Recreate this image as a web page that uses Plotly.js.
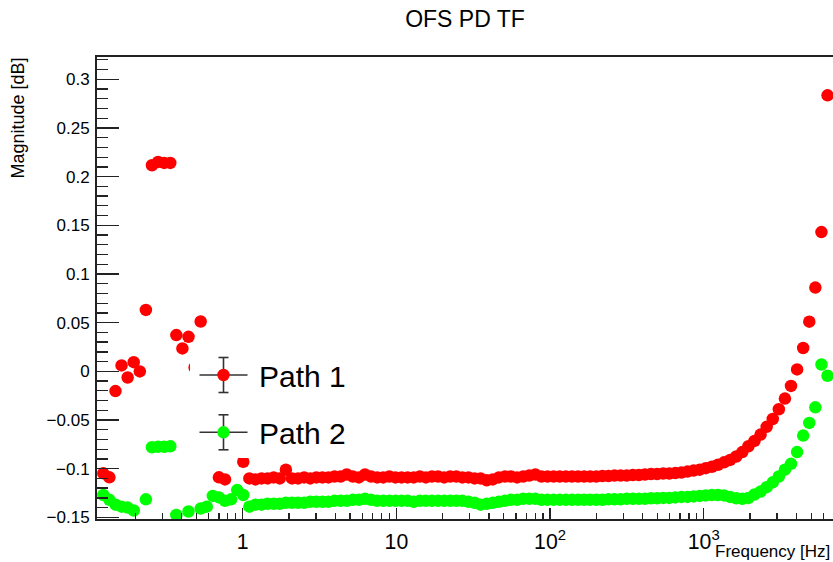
<!DOCTYPE html>
<html>
<head>
<meta charset="utf-8">
<script src="https://cdn.plot.ly/plotly-3.0.1.min.js"></script>
<style>
  html, body { margin: 0; padding: 0; background: #ffffff; }
  #chart { width: 833px; height: 562px; }
</style>
</head>
<body>
<div id="chart"></div>
<script>
// Swept-sine frequency points [Hz]
const freqHz = [
  0.1239, 0.1357, 0.1487, 0.1628, 0.1784, 0.1954, 0.2141, 0.2345, 0.2569, 0.2814,
  0.3083, 0.3378, 0.3700, 0.4053, 0.4440, 0.4864, 0.5329, 0.5838, 0.6394, 0.7005,
  0.7674, 0.8406, 0.9210, 1.0088, 1.1052, 1.2106, 1.3262, 1.4527, 1.5915, 1.7436,
  1.9099, 2.0924, 2.2923, 2.5106, 2.7506, 3.0130, 3.3008, 3.6160, 3.9610, 4.3390,
  4.7534, 5.2075, 5.7040, 6.2495, 6.8450, 7.4989, 8.2150, 9.0000, 9.858, 10.80,
  11.83, 12.96, 14.20, 15.55, 17.04, 18.66, 20.45, 22.40, 24.54, 26.88,
  29.44, 32.26, 35.33, 38.71, 42.41, 46.45, 50.89, 55.75, 61.07, 66.90,
  73.28, 80.28, 87.95, 96.34, 105.5, 115.6, 126.6, 138.7, 152.0, 166.5,
  182.4, 199.8, 218.9, 239.8, 262.7, 287.7, 315.2, 345.3, 378.3, 414.4,
  453.9, 497.3, 544.7, 596.8, 653.7, 716.1, 784.5, 859.4, 941.4, 1031,
  1130, 1238, 1356, 1485, 1627, 1782, 1953, 2139, 2343, 2567,
  2812, 3080, 3374, 3697, 4050, 4436, 4860, 5324, 5832, 6389
];

// Magnitude of path 1 [dB]
const path1Mag = [
  -0.1048, -0.1089, -0.0203, 0.0061, -0.0063, 0.0094, -0.0001, 0.0631, 0.2117, 0.2151,
  0.2141, 0.2141, 0.0372, 0.0235, 0.0354, 0.0040, 0.0512, -0.030, -0.055, -0.1089,
  -0.1110, -0.065, -0.045, -0.0929, -0.110, -0.111, -0.110, -0.110, -0.109, -0.110,
  -0.101, -0.110, -0.110, -0.109, -0.110, -0.109, -0.109, -0.109, -0.108, -0.108,
  -0.106, -0.108, -0.109, -0.106, -0.108, -0.109, -0.109, -0.108, -0.109, -0.109,
  -0.109, -0.109, -0.108, -0.109, -0.108, -0.108, -0.109, -0.108, -0.108, -0.109,
  -0.109, -0.110, -0.110, -0.112, -0.111, -0.109, -0.108, -0.108, -0.109, -0.108,
  -0.107, -0.106, -0.108, -0.108, -0.108, -0.108, -0.108, -0.108, -0.108, -0.108,
  -0.108, -0.108, -0.1075, -0.1075, -0.107, -0.107, -0.107, -0.1065, -0.1065, -0.106,
  -0.1055, -0.1055, -0.105, -0.105, -0.1045, -0.104, -0.103, -0.102, -0.101, -0.0995,
  -0.098, -0.096, -0.0935, -0.091, -0.0875, -0.083, -0.077, -0.0715, -0.065, -0.057,
  -0.049, -0.039, -0.028, -0.015, 0.002, 0.024, 0.051, 0.086, 0.143, 0.2835
];

// Magnitude of path 2 [dB]
const path2Mag = [
  -0.127, -0.132, -0.137, -0.139, -0.140, -0.143, -0.160, -0.1315, -0.078, -0.0775,
  -0.0775, -0.077, -0.1476, -0.160, -0.144, -0.160, -0.141, -0.139, -0.128, -0.1295,
  -0.133, -0.1315, -0.122, -0.127, -0.139, -0.137, -0.137, -0.136, -0.136, -0.136,
  -0.135, -0.135, -0.135, -0.135, -0.134, -0.134, -0.134, -0.134, -0.133, -0.133,
  -0.133, -0.132, -0.132, -0.131, -0.132, -0.133, -0.133, -0.133, -0.133, -0.133,
  -0.133, -0.134, -0.133, -0.133, -0.133, -0.133, -0.133, -0.133, -0.133, -0.133,
  -0.134, -0.135, -0.137, -0.136, -0.135, -0.134, -0.133, -0.132, -0.132, -0.131,
  -0.131, -0.131, -0.132, -0.132, -0.132, -0.132, -0.132, -0.132, -0.132, -0.132,
  -0.132, -0.132, -0.132, -0.1315, -0.1315, -0.1315, -0.131, -0.131, -0.131, -0.131,
  -0.1305, -0.1305, -0.130, -0.130, -0.1295, -0.129, -0.129, -0.1285, -0.128, -0.1275,
  -0.127, -0.127, -0.1275, -0.129, -0.1305, -0.131, -0.130, -0.1265, -0.1235, -0.119,
  -0.114, -0.108, -0.101, -0.095, -0.083, -0.066, -0.053, -0.037, 0.007, -0.0045
];

const seriesNames = ['Path 1', 'Path 2'];
const chartTitle = 'OFS PD TF';
const xTitle = 'Frequency [Hz]';
const yTitle = 'Magnitude [dB]';

// ---- styling ----
const FONT = 'Liberation Sans, Arial, Helvetica, sans-serif';
const COLORS = ['#ff0000', '#00ff00'];
const AXIS = '#222222';
const W = 833, H = 562;
const M = { l: 97, r: 0, t: 57, b: 43 };
const PW = W - M.l - M.r, PH = H - M.t - M.b;
// pixel -> paper coordinate helpers (used for legend / title placement)
const px = x => (x - M.l) / PW;
const py = y => (H - M.b - y) / PH;

const traces = [path1Mag, path2Mag].map((ys, i) => ({
  type: 'scatter',
  mode: 'markers',
  name: seriesNames[i],
  x: freqHz,
  y: ys,
  marker: { color: COLORS[i], size: 12.5, line: { width: 0 } },
  cliponaxis: true,
  hoverinfo: 'x+y+name'
}));

// Hand-built legend box: white panel, marker with cross-shaped error bars, label
const shapes = [];
const annotations = [];
shapes.push({
  type: 'rect', xref: 'paper', yref: 'paper', layer: 'above',
  x0: px(190), x1: px(362), y0: py(458), y1: py(347),
  fillcolor: '#ffffff', line: { width: 0 }
});
const rowY = [375, 432.3];
const symX = 223.5, halfLine = 24, halfBar = 17.5, cap = 5, r = 6.2;
seriesNames.forEach((name, i) => {
  const cy = rowY[i];
  const ln = { color: '#333333', width: 1.6 };
  const seg = (x0, y0, x1, y1) => shapes.push({
    type: 'line', xref: 'paper', yref: 'paper', layer: 'above',
    x0: px(x0), y0: py(y0), x1: px(x1), y1: py(y1), line: ln
  });
  seg(symX - halfLine, cy, symX + halfLine, cy);
  seg(symX, cy - halfBar, symX, cy + halfBar);
  seg(symX - cap, cy - halfBar, symX + cap, cy - halfBar);
  seg(symX - cap, cy + halfBar, symX + cap, cy + halfBar);
  shapes.push({
    type: 'circle', xref: 'paper', yref: 'paper', layer: 'above',
    x0: px(symX - r), x1: px(symX + r), y0: py(cy + r), y1: py(cy - r),
    fillcolor: COLORS[i], line: { width: 0 }
  });
  annotations.push({
    xref: 'paper', yref: 'paper', x: px(257), y: py(cy + 1.5),
    xanchor: 'left', yanchor: 'middle', showarrow: false,
    text: name, font: { family: FONT, size: 30, color: '#000000' }
  });
});

// Axis titles placed ROOT-style (right/top aligned)
annotations.push({
  xref: 'paper', yref: 'paper', x: px(832), y: py(551),
  xanchor: 'right', yanchor: 'middle', showarrow: false,
  text: xTitle, font: { family: FONT, size: 17, color: '#000000' }
});
annotations.push({
  xref: 'paper', yref: 'paper', x: px(18), y: py(56),
  xanchor: 'center', yanchor: 'top', showarrow: false, textangle: -90,
  text: yTitle, font: { family: FONT, size: 18, color: '#000000' }
});

const layout = {
  width: W, height: H,
  margin: M,
  paper_bgcolor: '#ffffff',
  plot_bgcolor: '#ffffff',
  showlegend: false,
  font: { family: FONT, size: 17, color: '#000000' },
  title: {
    text: chartTitle,
    font: { family: FONT, size: 23, color: '#000000' },
    xref: 'paper', x: 0.5, xanchor: 'center',
    yref: 'container', y: 1 - 19 / H, yanchor: 'middle'
  },
  xaxis: {
    type: 'log',
    range: [-0.948, 3.841],
    dtick: 1,
    exponentformat: 'power',
    showgrid: false, zeroline: false,
    showline: true, linecolor: AXIS, linewidth: 2, mirror: true,
    ticks: 'inside', ticklen: 11, tickwidth: 1.3, tickcolor: AXIS,
    ticklabelstandoff: 3,
    tickfont: { family: FONT, size: 17, color: '#000000' },
    minor: { ticks: 'inside', ticklen: 6, tickwidth: 1.3, tickcolor: AXIS, dtick: 'D1', showgrid: false }
  },
  yaxis: {
    range: [-0.1517, 0.3229],
    tick0: 0, dtick: 0.05,
    showgrid: false, zeroline: false,
    showline: true, linecolor: AXIS, linewidth: 2, mirror: false,
    ticks: 'inside', ticklen: 22, tickwidth: 1.3, tickcolor: AXIS,
    ticklabelstandoff: 2,
    tickfont: { family: FONT, size: 17, color: '#000000' },
    minor: { ticks: 'inside', ticklen: 11, tickwidth: 1.3, tickcolor: AXIS, dtick: 0.01, showgrid: false }
  },
  shapes: shapes,
  annotations: annotations
};

Plotly.newPlot('chart', traces, layout, { displayModeBar: false, staticPlot: true });
</script>
</body>
</html>
